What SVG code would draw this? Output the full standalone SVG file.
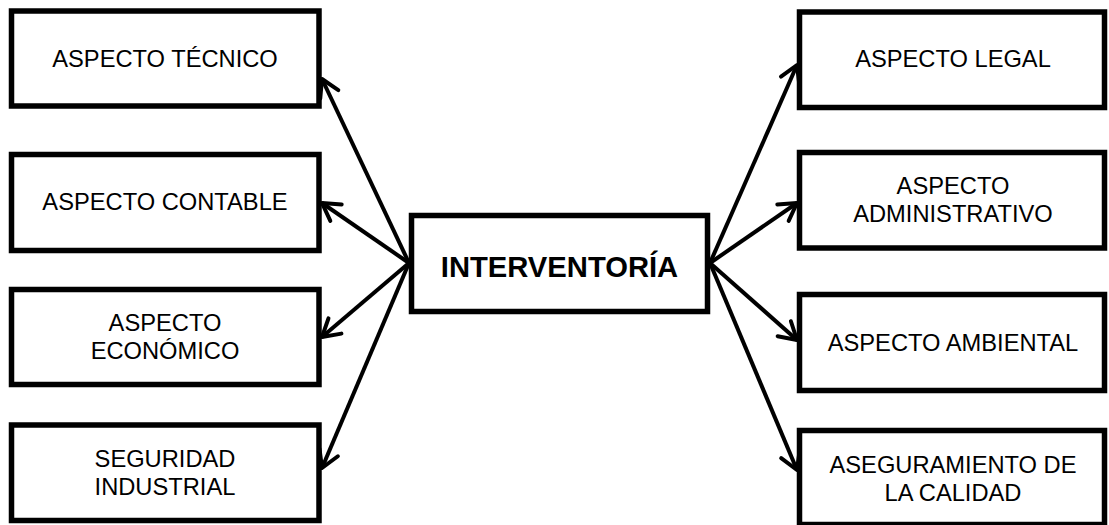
<svg xmlns="http://www.w3.org/2000/svg" width="1109" height="525" viewBox="0 0 1109 525">
<style>
.box{fill:#fff;stroke:#000;stroke-width:5.5}
.t{font-family:"Liberation Sans",Arial,sans-serif;font-size:23.7px;fill:#000;text-anchor:middle}
.tb{font-family:"Liberation Sans",Arial,sans-serif;font-size:29.2px;font-weight:bold;fill:#000;text-anchor:middle}
.c{stroke:#000;stroke-width:4;fill:none;marker-end:url(#ah)}
</style>
<defs>
<marker id="ah" markerUnits="userSpaceOnUse" viewBox="-25 -15 30 30" refX="0" refY="0" markerWidth="30" markerHeight="30" orient="auto" overflow="visible">
<path d="M-17,-10 L0,0 L-17,10" fill="none" stroke="#000" stroke-width="4" stroke-linecap="round" stroke-linejoin="round"/>
</marker>
</defs>
<rect width="1109" height="525" fill="#fff"/>
<g id="connectors">
<line class="c" x1="409" y1="263" x2="322" y2="79"/>
<line class="c" x1="409" y1="263" x2="322" y2="203"/>
<line class="c" x1="409" y1="263" x2="322" y2="337"/>
<line class="c" x1="409" y1="263" x2="322" y2="468"/>
<line class="c" x1="710" y1="263" x2="797" y2="65"/>
<line class="c" x1="710" y1="263" x2="797" y2="203"/>
<line class="c" x1="710" y1="263" x2="797" y2="340"/>
<line class="c" x1="710" y1="263" x2="797" y2="470"/>
</g>
<g id="center">
<rect class="box" x="411.5" y="215.5" width="296" height="96"/>
<text class="tb" x="559.5" y="276.5">INTERVENTORÍA</text>
</g>
<g id="tecnico">
<rect class="box" x="11.5" y="11" width="307.5" height="95"/>
<text class="t" x="165" y="66.5">ASPECTO TÉCNICO</text>
</g>
<g id="contable">
<rect class="box" x="11.5" y="154.5" width="307.5" height="96"/>
<text class="t" x="165" y="210">ASPECTO CONTABLE</text>
</g>
<g id="economico">
<rect class="box" x="11.5" y="289.5" width="307.5" height="95"/>
<text class="t" x="165" y="331">ASPECTO</text>
<text class="t" x="165" y="359">ECONÓMICO</text>
</g>
<g id="seguridad">
<rect class="box" x="11.5" y="425" width="307.5" height="95.5"/>
<text class="t" x="165" y="467">SEGURIDAD</text>
<text class="t" x="165" y="495">INDUSTRIAL</text>
</g>
<g id="legal">
<rect class="box" x="799.5" y="12" width="305" height="95.5"/>
<text class="t" x="953" y="66.5">ASPECTO LEGAL</text>
</g>
<g id="administrativo">
<rect class="box" x="799.5" y="152.5" width="305" height="95.5"/>
<text class="t" x="953" y="194">ASPECTO</text>
<text class="t" x="953" y="222.3">ADMINISTRATIVO</text>
</g>
<g id="ambiental">
<rect class="box" x="799.5" y="294.5" width="305" height="96"/>
<text class="t" x="953" y="350.7">ASPECTO AMBIENTAL</text>
</g>
<g id="calidad">
<rect class="box" x="799.5" y="430.5" width="305" height="94"/>
<text class="t" x="953" y="473.3">ASEGURAMIENTO DE</text>
<text class="t" x="953" y="501">LA CALIDAD</text>
</g>
</svg>
